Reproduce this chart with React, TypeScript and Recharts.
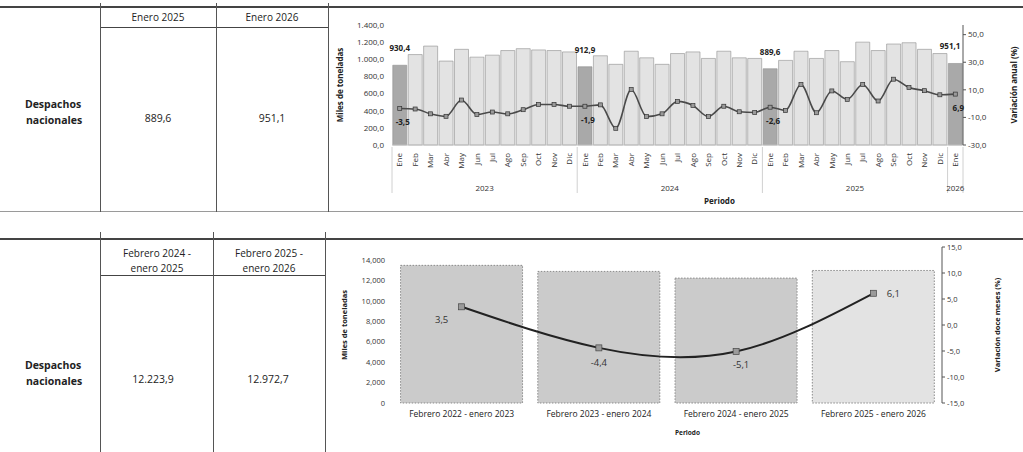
import { ComposedChart, Bar, Line, XAxis, YAxis, Cell, LabelList, ReferenceArea } from 'recharts'

// --- datos mensuales (miles de toneladas y variación anual %) ---
const meses = ['Ene', 'Feb', 'Mar', 'Abr', 'May', 'Jun', 'Jul', 'Ago', 'Sep', 'Oct', 'Nov', 'Dic']
const anios = [2023, 2024, 2025, 2026]

const despachosMes = [
  930.4, 1055, 1154, 979, 1116, 1025, 1048, 1102, 1124, 1109, 1102, 1086,
  912.9, 1041, 941, 1094, 1017, 941, 1067, 1086, 1010, 1094, 1017, 1010,
  889.6, 987, 1094, 1010, 1102, 972, 1200, 1102, 1178, 1193, 1116, 1067,
  951.1,
]
const variacionAnual = [
  -3.5, -3.9, -7.4, -9.2, 2.6, -7.9, -6.1, -7.4, -4.4, -0.6, -0.6, -1.9,
  -1.9, -0.9, -17.9, 10.2, -9.4, -7.4, 1.6, -1.4, -9.4, -1.9, -5.9, -6.4,
  -2.6, -4.9, 13.9, -6.6, 9.2, 3.1, 13.9, 1.9, 17.7, 11.7, 9.4, 6.4,
  6.9,
]
const ticksMiles = [0, 200, 400, 600, 800, 1000, 1200, 1400]
const ticksVarAnual = [-30, -10, 10, 30, 50]

// --- datos doce meses ---
const periodosDoce = [
  'Febrero 2022 - enero 2023',
  'Febrero 2023 - enero 2024',
  'Febrero 2024 - enero 2025',
  'Febrero 2025 - enero 2026',
]
const despachosDoce = [13474, 12881, 12223.9, 12972.7]
const variacionDoce = [3.5, -4.4, -5.1, 6.1]
const ticksMilesDoce = [0, 2000, 4000, 6000, 8000, 10000, 12000, 14000]
const ticksVarDoce = [-15, -10, -5, 0, 5, 10, 15]

// --- tabla ---
const encabezadoMes = ['Enero 2025', 'Enero 2026']
const valoresMes = ['889,6', '951,1']
const encabezadoDoce = [['Febrero 2024 -', 'enero 2025'], ['Febrero 2025 -', 'enero 2026']]
const valoresDoce = ['12.223,9', '12.972,7']

const FONT = '"Open Sans", "Liberation Sans", sans-serif'

function fmt(v: number, dec: number, thou = '.', decSep = ',') {
  const neg = v < 0
  const [i, d] = Math.abs(v).toFixed(dec).split('.')
  const ii = i.replace(/\B(?=(\d{3})+(?!\d))/g, thou)
  return (neg ? '-' : '') + ii + (d ? decSep + d : '')
}

const periodos = anios.flatMap((a) => (a === 2026 ? [`Ene ${a}`] : meses.map((m) => `${m} ${a}`)))
const dataMes = periodos.map((p, i) => ({
  periodo: p,
  despachos: despachosMes[i],
  variacion: variacionAnual[i],
}))
const gruposAnio = anios.map((a) => {
  const ps = periodos.filter((p) => p.endsWith(String(a)))
  return { anio: a, first: ps[0], last: ps[ps.length - 1] }
})
const dataDoce = periodosDoce.map((p, i) => ({
  periodo: p,
  despachos: despachosDoce[i],
  variacion: variacionDoce[i],
}))

const isEne = (i: number) => periodos[i]?.startsWith('Ene')

function MonthTick(props: any) {
  const { x, y, payload } = props
  return (
    <text
      x={x}
      y={y}
      transform={`rotate(-90 ${x} ${y})`}
      textAnchor="end"
      dy="0.34em"
      fontSize={8}
      fill="#333"
      fontFamily={FONT}
    >
      {String(payload.value).slice(0, 3)}
    </text>
  )
}

function YearMark(props: any) {
  const { x, y, width, height, anio, closeRight } = props
  const base = y + height
  return (
    <g>
      <line x1={x} x2={x} y1={base + 2} y2={base + 48} stroke="#d0d0d0" strokeWidth={1} />
      {closeRight && <line x1={x + width} x2={x + width} y1={base + 2} y2={base + 48} stroke="#d0d0d0" />}
      <text x={x + width / 2} y={base + 46} textAnchor="middle" fontSize={8} fill="#333" fontFamily={FONT}>
        {anio}
      </text>
    </g>
  )
}

function BarEneLabel(props: any) {
  const { x, y, width, value, index } = props
  if (!isEne(index)) return null
  const last = index === periodos.length - 1
  return (
    <text
      x={last ? x + width - 2 : x + width / 2}
      y={y - 14}
      textAnchor={last ? 'end' : 'middle'}
      fontSize={8}
      fontWeight={700}
      fill="#222"
      fontFamily={FONT}
    >
      {fmt(value, 1)}
    </text>
  )
}

function LineEneLabel(props: any) {
  const { x, y, value, index } = props
  if (!isEne(index)) return null
  return (
    <text x={x + 3} y={y + 17} textAnchor="middle" fontSize={8} fontWeight={700} fill="#222" fontFamily={FONT}>
      {fmt(value, 1)}
    </text>
  )
}

function squareDot(size: number, fill: string, stroke: string) {
  return (props: any) => {
    const { cx, cy, index } = props
    if (cx == null || cy == null) return <g key={`d-${index}`} />
    return (
      <rect
        key={`d-${index}`}
        x={cx - size / 2}
        y={cy - size / 2}
        width={size}
        height={size}
        fill={fill}
        stroke={stroke}
        strokeWidth={0.7}
      />
    )
  }
}

function DoceLabel(props: any) {
  const { x, y, value, index } = props
  const off = [[-20, 16], [0, 18], [5, 16], [20, 4]][index] || [0, 16]
  return (
    <text x={x + off[0]} y={y + off[1]} textAnchor="middle" fontSize={9.5} fill="#333" fontFamily={FONT}>
      {fmt(value, 1)}
    </text>
  )
}

function MonthlyChart() {
  return (
    <ComposedChart
      width={693}
      height={206}
      data={dataMes}
      margin={{ top: 19, right: 20, bottom: 7, left: 14 }}
      barCategoryGap="5%"
    >
      <XAxis
        dataKey="periodo"
        interval={0}
        tick={<MonthTick />}
        tickLine={false}
        axisLine={{ stroke: '#c4c4c4' }}
        height={60}
        label={{ value: 'Periodo', position: 'insideBottom', offset: 1, dx: 42, fontSize: 8, fontWeight: 700, fill: '#222' }}
      />
      <YAxis
        yAxisId="left"
        domain={[0, 1400]}
        ticks={ticksMiles}
        tickFormatter={(v) => fmt(v, 1)}
        width={48}
        axisLine={false}
        tickLine={false}
        tick={{ fontSize: 8, fill: '#333' }}
        label={{
          value: 'Miles de toneladas',
          angle: -90,
          position: 'insideLeft',
          offset: -4,
          style: { textAnchor: 'middle' },
          fontSize: 8,
          fontWeight: 700,
          fill: '#222',
        }}
      />
      <YAxis
        yAxisId="right"
        orientation="right"
        domain={[-30, 57]}
        ticks={ticksVarAnual}
        tickFormatter={(v) => fmt(v, 1)}
        width={40}
        axisLine={{ stroke: '#555' }}
        tickLine={{ stroke: '#555' }}
        tickSize={3}
        tick={{ fontSize: 8, fill: '#333' }}
        label={{
          value: 'Variación anual (%)',
          angle: -90,
          position: 'insideRight',
          offset: -11,
          style: { textAnchor: 'middle' },
          fontSize: 8,
          fontWeight: 700,
          fill: '#222',
        }}
      />
      {gruposAnio.map((g, i) => (
        <ReferenceArea
          key={g.anio}
          yAxisId="left"
          x1={g.first}
          x2={g.last}
          ifOverflow="visible"
          shape={(p: any) => <YearMark {...p} anio={g.anio} closeRight={i === gruposAnio.length - 1} />}
        />
      ))}
      <Bar yAxisId="left" dataKey="despachos" isAnimationActive={false}>
        {dataMes.map((d, i) => (
          <Cell key={d.periodo} fill={isEne(i) ? '#a9a9a9' : '#e3e3e3'} stroke="#8e8e8e" strokeWidth={0.6} />
        ))}
        <LabelList dataKey="despachos" content={BarEneLabel} />
      </Bar>
      <Line
        yAxisId="right"
        type="monotone"
        dataKey="variacion"
        stroke="#4a4a4a"
        strokeWidth={1.6}
        dot={squareDot(4, '#9a9a9a', '#333')}
        isAnimationActive={false}
      >
        <LabelList dataKey="variacion" content={LineEneLabel} />
      </Line>
    </ComposedChart>
  )
}

function TwelveMonthChart() {
  return (
    <ComposedChart
      width={690}
      height={212}
      data={dataDoce}
      margin={{ top: 7, right: 22, bottom: 9, left: 13 }}
      barCategoryGap="5.5%"
    >
      <XAxis
        dataKey="periodo"
        interval={0}
        tickLine={false}
        axisLine={false}
        tick={{ fontSize: 8.5, fill: '#222' }}
        height={40}
        label={{ value: 'Periodo', position: 'insideBottom', offset: 8, dx: 20, fontSize: 6.5, fontWeight: 700, fill: '#222' }}
      />
      <YAxis
        yAxisId="left"
        domain={[0, 15270]}
        ticks={ticksMilesDoce}
        tickFormatter={(v) => fmt(v, 0, ',')}
        width={50}
        axisLine={false}
        tickLine={false}
        tick={{ fontSize: 7.5, fill: '#333' }}
        label={{
          value: 'Miles de toneladas',
          angle: -90,
          position: 'insideLeft',
          offset: 1,
          style: { textAnchor: 'middle' },
          fontSize: 7.5,
          fontWeight: 700,
          fill: '#222',
        }}
      />
      <YAxis
        yAxisId="right"
        orientation="right"
        domain={[-15, 15]}
        ticks={ticksVarDoce}
        tickFormatter={(v) => fmt(v, 1)}
        width={56}
        axisLine={{ stroke: '#555' }}
        tickLine={{ stroke: '#555' }}
        tickSize={3}
        tick={{ fontSize: 7.5, fill: '#333' }}
        label={{
          value: 'Variación doce meses (%)',
          angle: -90,
          position: 'insideRight',
          offset: 1,
          style: { textAnchor: 'middle' },
          fontSize: 7.5,
          fontWeight: 700,
          fill: '#222',
        }}
      />
      <Bar yAxisId="left" dataKey="despachos" isAnimationActive={false}>
        {dataDoce.map((d, i) => (
          <Cell
            key={d.periodo}
            fill={i === dataDoce.length - 1 ? '#e3e3e3' : '#cbcbcb'}
            stroke="#8a8a8a"
            strokeWidth={1}
            strokeDasharray="1.5 1.5"
          />
        ))}
      </Bar>
      <Line
        yAxisId="right"
        type="natural"
        dataKey="variacion"
        stroke="#222"
        strokeWidth={2}
        dot={squareDot(6, '#9a9a9a', '#444')}
        isAnimationActive={false}
      >
        <LabelList dataKey="variacion" content={DoceLabel} />
      </Line>
    </ComposedChart>
  )
}

function HLine({ x, y, w, color = '#444', t = 1 }: any) {
  return <div style={{ position: 'absolute', left: x, top: y, width: w, height: t, background: color }} />
}
function VLine({ x, y, h, color = '#555', t = 1 }: any) {
  return <div style={{ position: 'absolute', left: x, top: y, width: t, height: h, background: color }} />
}
function T({ x, y, children, style }: any) {
  return (
    <div
      style={{
        position: 'absolute',
        left: x,
        top: y,
        transform: 'translate(-50%, -50%)',
        whiteSpace: 'nowrap',
        lineHeight: 1,
        ...style,
      }}
    >
      {children}
    </div>
  )
}

export default function App() {
  return (
    <div
      style={{
        position: 'absolute',
        left: 0,
        top: 0,
        width: 1023,
        height: 452,
        background: '#fff',
        fontFamily: FONT,
        color: '#222',
        overflow: 'hidden',
      }}
    >
      {/* tabla mensual */}
      <HLine x={0} y={6} w={1023} t={1.5} />
      <HLine x={100} y={27} w={228} />
      <HLine x={0} y={211} w={1023} color="#9a9a9a" />
      <VLine x={100} y={3} h={209} />
      <VLine x={216} y={3} h={209} />
      <VLine x={328} y={3} h={209} />
      <T x={158} y={17} style={{ fontSize: 10 }}>{encabezadoMes[0]}</T>
      <T x={272} y={17} style={{ fontSize: 10 }}>{encabezadoMes[1]}</T>
      <T x={53} y={104} style={{ fontSize: 10.5, fontWeight: 700 }}>Despachos</T>
      <T x={54} y={120} style={{ fontSize: 10.5, fontWeight: 700 }}>nacionales</T>
      <T x={158} y={118} style={{ fontSize: 10.5 }}>{valoresMes[0]}</T>
      <T x={272} y={118} style={{ fontSize: 10.5 }}>{valoresMes[1]}</T>

      {/* tabla doce meses */}
      <HLine x={0} y={238} w={1023} t={1.5} />
      <HLine x={100} y={275} w={226} />
      <VLine x={100} y={232} h={220} />
      <VLine x={213} y={232} h={220} />
      <VLine x={325} y={232} h={220} />
      {encabezadoDoce.map((lines, i) => (
        <div key={i}>
          <T x={i === 0 ? 157 : 269} y={253} style={{ fontSize: 10 }}>{lines[0]}</T>
          <T x={i === 0 ? 157 : 269} y={268} style={{ fontSize: 10 }}>{lines[1]}</T>
        </div>
      ))}
      <T x={53} y={365} style={{ fontSize: 10.5, fontWeight: 700 }}>Despachos</T>
      <T x={54} y={381} style={{ fontSize: 10.5, fontWeight: 700 }}>nacionales</T>
      <T x={153} y={379} style={{ fontSize: 10.5 }}>{valoresDoce[0]}</T>
      <T x={268} y={379} style={{ fontSize: 10.5 }}>{valoresDoce[1]}</T>

      <div style={{ position: 'absolute', left: 330, top: 6 }}>
        <MonthlyChart />
      </div>
      <div style={{ position: 'absolute', left: 330, top: 240 }}>
        <TwelveMonthChart />
      </div>
    </div>
  )
}
